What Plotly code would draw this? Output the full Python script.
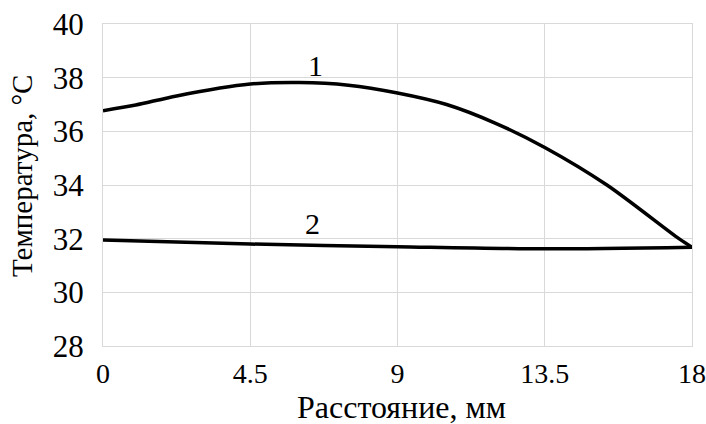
import plotly.graph_objects as go

x1 = [0, 1, 2.25, 4.5, 6, 7.5, 9, 10.5, 12, 13.5, 15.4, 17.6, 18]
t1 = [36.77, 36.98, 37.32, 37.76, 37.82, 37.72, 37.43, 37.0, 36.3, 35.4, 34.0, 32.0, 31.68]
x2 = [0, 4.5, 9, 13.5, 18]
t2 = [31.95, 31.8, 31.7, 31.62, 31.68]

xticks = [0, 4.5, 9, 13.5, 18]
xticklabels = ["0", "4.5", "9", "13.5", "18"]
yticks = [28, 30, 32, 34, 36, 38, 40]

curve_labels = ["1", "2"]
label_x = [6.5, 6.4]
label_y = [38.47, 32.58]

x_title = "Расстояние, мм"
y_title = "Температура, °С"

font = "Liberation Serif, Times New Roman, serif"

fig = go.Figure()
fig.add_trace(go.Scatter(x=x1, y=t1, mode="lines", line=dict(color="black", width=3.5, shape="spline", smoothing=0.8), showlegend=False))
fig.add_trace(go.Scatter(x=x2, y=t2, mode="lines", line=dict(color="black", width=3.5, shape="spline", smoothing=0.8), showlegend=False))

for t, lx, ly in zip(curve_labels, label_x, label_y):
    fig.add_annotation(x=lx, y=ly, text=t, showarrow=False, font=dict(family=font, size=30, color="black"))

fig.add_annotation(xref="paper", yref="paper", x=0.5, y=0, xanchor="center", yanchor="middle",
                   xshift=4, yshift=-61, text=x_title, showarrow=False,
                   font=dict(family=font, size=32, color="black"))
fig.add_annotation(xref="paper", yref="paper", x=0, y=0.5, xanchor="center", yanchor="middle",
                   xshift=-81, yshift=9, text=y_title, textangle=-90, showarrow=False,
                   font=dict(family=font, size=29, color="black"))

fig.update_layout(
    width=706, height=424,
    margin=dict(l=103, r=14, t=24, b=78),
    paper_bgcolor="white", plot_bgcolor="white",
    font=dict(family=font, size=30, color="black"),
)
fig.update_xaxes(range=[0, 18], tickvals=xticks, ticktext=xticklabels, showgrid=True, gridcolor="#d9d9d9", gridwidth=1,
                 zeroline=False, showline=True, linecolor="#d9d9d9", mirror=True, ticks="", ticklabelstandoff=2,
                 automargin=False,
                 tickfont=dict(family=font, size=28, color="black"))
fig.update_yaxes(range=[28, 40], tickvals=yticks, showgrid=True, gridcolor="#d9d9d9", gridwidth=1,
                 zeroline=False, showline=True, linecolor="#d9d9d9", mirror=True, ticks="", ticklabelstandoff=12,
                 automargin=False,
                 tickfont=dict(family=font, size=31, color="black"))

fig.write_html("out.html", config={"displayModeBar": False},
               post_script="document.body.style.margin='0px';document.body.style.overflow='hidden';")
